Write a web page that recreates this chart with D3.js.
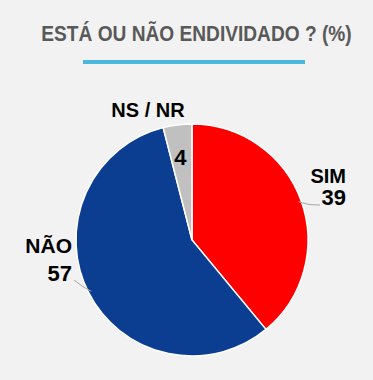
<!DOCTYPE html>
<html>
<head>
<meta charset="utf-8">
<script src="https://cdn.jsdelivr.net/npm/d3@7"></script>
<style>
  html, body { margin: 0; padding: 0; background: #f2f2f2; }
  svg { display: block; }
</style>
</head>
<body>
<svg id="chart" width="373" height="380"></svg>
<script>
// data
var categories = ["SIM", "NÃO", "NS / NR"];
var values = [39, 57, 4];
var colors = ["#ff0000", "#0b3d91", "#c0c0c0"];

var svg = d3.select("#chart");
var W = 373, H = 380;
var cx = 192, cy = 240, R = 116;

svg.append("rect").attr("width", W).attr("height", H).attr("fill", "#f2f2f2");

// title + underline (squeezed horizontally, the original font is condensed)
svg.append("text")
   .attr("transform", "translate(196.5,41) scale(0.87,1)")
   .attr("text-anchor", "middle")
   .style("font-family", "'Liberation Sans', Arial, sans-serif")
   .style("font-weight", "bold")
   .style("font-size", "22px")
   .attr("fill", "#595959")
   .text("ESTÁ OU NÃO ENDIVIDADO ? (%)");

svg.append("rect")
   .attr("x", 83).attr("y", 60).attr("width", 222).attr("height", 4)
   .attr("fill", "#4ab8dc");

var pie = d3.pie().sort(null).value(function (d) { return d; });
var arcs = pie(values);
var arc = d3.arc().innerRadius(0).outerRadius(R);

var g = svg.append("g").attr("transform", "translate(" + cx + "," + cy + ")");

g.selectAll("path.slice")
  .data(arcs)
  .enter().append("path")
  .attr("class", "slice")
  .attr("d", arc)
  .attr("fill", function (d, i) { return colors[i]; })
  .attr("stroke", "#ffffff")
  .attr("stroke-width", 1.5);

// point on a circle of radius r at the slice middle
function at(d, r) {
  var a = (d.startAngle + d.endAngle) / 2;
  return [Math.sin(a) * r, -Math.cos(a) * r];
}

var font = "'Liberation Sans', Arial, sans-serif";

// leader lines for SIM and NÃO
var leaders = [
  { i: 0, end: [128, -35] },
  { i: 1, end: [-118, 40] }
];
leaders.forEach(function (l) {
  var p0 = at(arcs[l.i], R - 3);
  var p1 = l.end;
  var mid = [(p0[0] + p1[0]) / 2, l.i === 0 ? p0[1] + 4 : p0[1] - 4];
  g.append("path")
   .attr("d", "M" + p0 + "Q" + mid + " " + p1)
   .attr("fill", "none")
   .attr("stroke", "#a6a6a6")
   .attr("stroke-width", 1);
});

// outer labels: [anchor x, name baseline, value baseline] relative to center
var labelPos = [
  { x: 154, yName: -57, yVal: -35, anchor: "end" },
  { x: -120, yName: 13, yVal: 41, anchor: "end" },
  { x: -44, yName: -123, yVal: null, anchor: "middle" }
];

labelPos.forEach(function (p, i) {
  g.append("text")
   .attr("x", p.x).attr("y", p.yName)
   .attr("text-anchor", p.anchor)
   .style("font-family", font).style("font-weight", "bold")
   .style("font-size", i === 1 ? "21px" : "20px")
   .attr("fill", "#000")
   .text(categories[i]);
  if (p.yVal !== null) {
    g.append("text")
     .attr("x", p.x).attr("y", p.yVal)
     .attr("text-anchor", p.anchor)
     .style("font-family", font).style("font-weight", "bold")
     .style("font-size", "22px")
     .attr("fill", "#000")
     .text(values[i]);
  }
});

// value inside the small slice
var inPos = at(arcs[2], 84);
g.append("text")
  .attr("x", inPos[0] - 1).attr("y", inPos[1] + 8)
  .attr("text-anchor", "middle")
  .style("font-family", font).style("font-weight", "bold")
  .style("font-size", "22px")
  .attr("fill", "#000")
  .text(values[2]);
</script>
</body>
</html>
